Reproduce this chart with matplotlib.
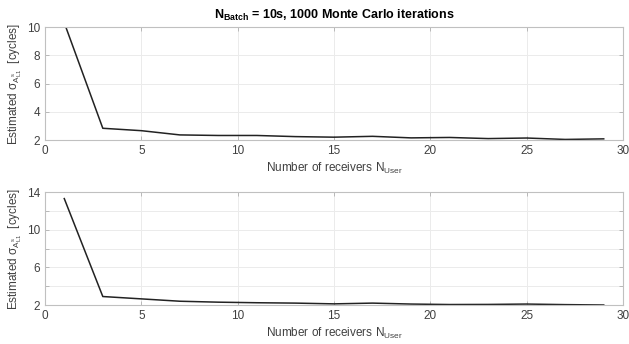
import matplotlib
matplotlib.use('Agg')
import matplotlib.pyplot as plt

plt.rcParams['font.family'] = ['Liberation Sans', 'DejaVu Sans']
plt.rcParams['mathtext.fontset'] = 'custom'
plt.rcParams['mathtext.rm'] = 'Liberation Sans'
plt.rcParams['mathtext.it'] = 'Liberation Sans'
plt.rcParams['mathtext.bf'] = 'Liberation Sans:bold'

# number of receivers
n_user = [1, 3, 5, 7, 9, 11, 13, 15, 17, 19, 21, 23, 25, 27, 29]
# estimated sigma, top panel (first value clipped by the axis)
sigma_top = [10.3, 2.83, 2.66, 2.36, 2.32, 2.32, 2.24, 2.2, 2.26, 2.15, 2.18, 2.1, 2.14, 2.04, 2.08]
# estimated sigma, bottom panel
sigma_bot = [13.3, 2.9, 2.65, 2.4, 2.3, 2.24, 2.2, 2.12, 2.2, 2.1, 2.05, 2.06, 2.1, 2.04, 2.0]

title = r'$\mathbf{N_{Batch}}$ = 10s, 1000 Monte Carlo iterations'
ylab = r'Estimated $\sigma_{A^{s}_{L1}}$  [cycles]'
xlab = r'Number of receivers N$_{\mathrm{User}}$'

fg = '#404040'
fig = plt.figure(figsize=(6.29, 3.44), dpi=100)
ax1 = fig.add_axes([45 / 629, 1 - 140 / 344, 578 / 629, 113 / 344])
ax2 = fig.add_axes([45 / 629, 1 - 305 / 344, 578 / 629, 113 / 344])


def style(ax):
    ax.set_xlim(0, 30)
    ax.set_xticks(range(0, 31, 5))
    ax.grid(True, color='#ebebeb', linewidth=0.7)
    ax.set_axisbelow(True)
    for s in ax.spines.values():
        s.set_color('#c0c0c0')
        s.set_linewidth(0.8)
    ax.tick_params(direction='in', top=True, right=True, labelsize=8.5,
                   colors='#b0b0b0', labelcolor=fg, length=3, width=0.6)
    ax.set_xlabel(xlab, fontsize=8.5, color=fg, labelpad=3)
    ax.set_ylabel(ylab, fontsize=8.5, color=fg, labelpad=2)


ax1.plot(n_user, sigma_top, color='#222222', linewidth=1.1)
ax1.set_ylim(2, 10)
ax1.set_yticks(range(2, 11, 2))
style(ax1)
ax1.set_title(title, fontsize=9, fontweight='bold', color='black', pad=6)

ax2.plot(n_user, sigma_bot, color='#222222', linewidth=1.1)
ax2.set_ylim(2, 14)
ax2.set_yticks(range(2, 15, 2))
ax2.set_yticklabels([str(v) if v in (2, 6, 10, 14) else '' for v in range(2, 15, 2)])
style(ax2)

fig.savefig('out.png', dpi=100)
